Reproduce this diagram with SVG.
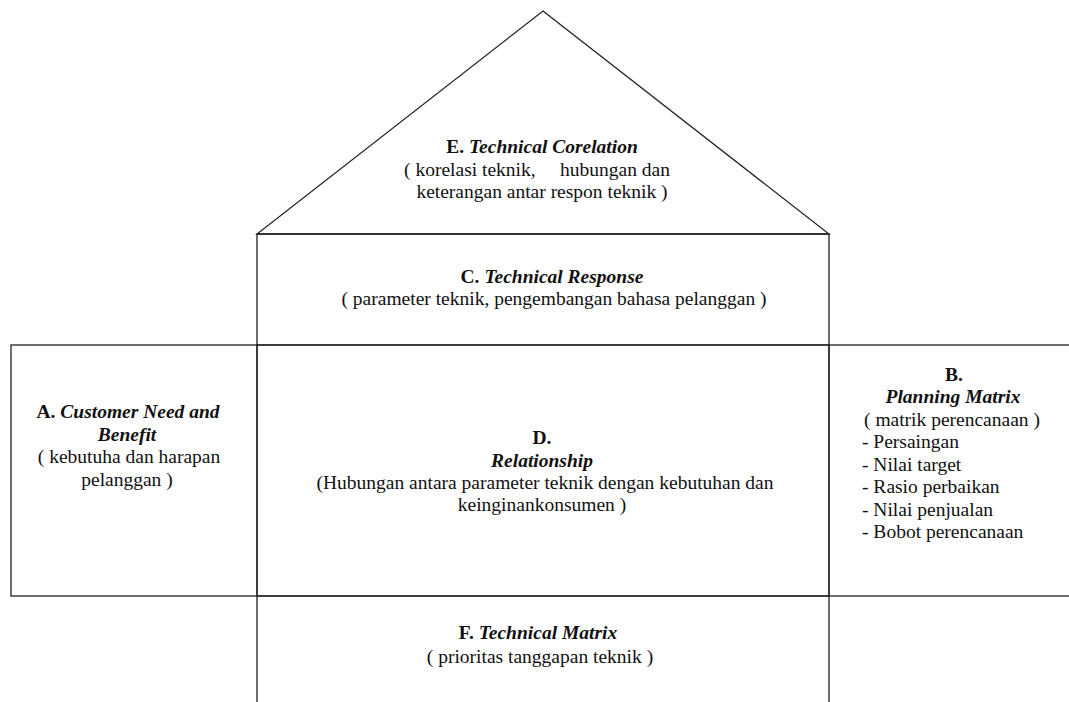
<svg xmlns="http://www.w3.org/2000/svg" width="1069" height="702" viewBox="0 0 1069 702">
<style>
.box{fill:none;stroke:#222;stroke-width:1.3}
text{font-family:"Liberation Serif","Times New Roman",serif;font-size:19.5px;fill:#111}
.c{text-anchor:middle}
.b{font-weight:bold}
.bi{font-weight:bold;font-style:italic}
.pre{white-space:pre}
</style>
<rect width="1069" height="702" fill="#fff"/>
<g id="E-technical-corelation">
<polygon class="box" points="543,11 829,234 257,234"/>
<text class="c b" x="542" y="153">E. <tspan class="bi">Technical Corelation</tspan></text>
<text class="c pre" x="537" y="176">( korelasi teknik,     hubungan dan</text>
<text class="c" x="542" y="198">keterangan antar respon teknik )</text>
</g>
<g id="C-technical-response">
<rect class="box" x="257" y="234" width="572" height="111"/>
<text class="c b" x="552" y="283">C. <tspan class="bi">Technical Response</tspan></text>
<text class="c" x="554" y="305">( parameter teknik, pengembangan bahasa pelanggan )</text>
</g>
<g id="A-customer-need">
<rect class="box" x="11" y="345" width="246" height="251"/>
<text class="c b" x="128" y="418">A. <tspan class="bi">Customer Need and</tspan></text>
<text class="c bi" x="127" y="441">Benefit</text>
<text class="c" x="129" y="463">( kebutuha dan harapan</text>
<text class="c" x="127" y="486">pelanggan )</text>
</g>
<g id="D-relationship">
<rect class="box" x="257" y="345" width="572" height="251"/>
<text class="c b" x="542" y="444">D.</text>
<text class="c bi" x="542" y="467">Relationship</text>
<text class="c" x="545" y="489">(Hubungan antara parameter teknik dengan kebutuhan dan</text>
<text class="c" x="542" y="511">keinginankonsumen )</text>
</g>
<g id="B-planning-matrix">
<rect class="box" x="829" y="345" width="260" height="251"/>
<text class="c b" x="954" y="381">B.</text>
<text class="c bi" x="953" y="403">Planning Matrix</text>
<text class="c" x="952" y="426">( matrik perencanaan )</text>
<text x="862" y="448">- Persaingan</text>
<text x="862" y="471">- Nilai target</text>
<text x="862" y="493">- Rasio perbaikan</text>
<text x="862" y="516">- Nilai penjualan</text>
<text x="862" y="538">- Bobot perencanaan</text>
</g>
<g id="F-technical-matrix">
<rect class="box" x="257" y="596" width="572" height="130"/>
<text class="c b" x="538" y="639">F. <tspan class="bi">Technical Matrix</tspan></text>
<text class="c" x="540" y="663">( prioritas tanggapan teknik )</text>
</g>
<g id="connectors"></g>
</svg>
